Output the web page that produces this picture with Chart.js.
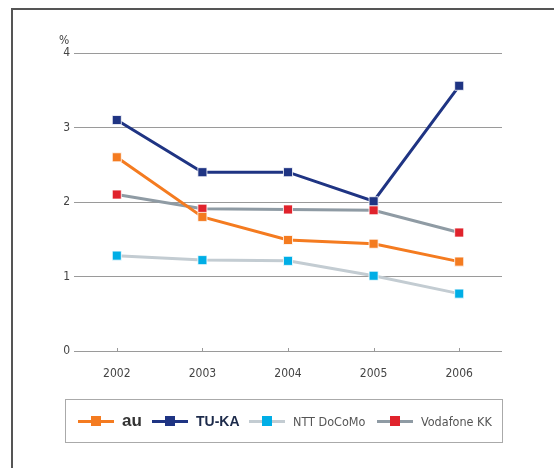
<!DOCTYPE html>
<html>
<head>
<meta charset="utf-8">
<script src="https://cdn.jsdelivr.net/npm/chart.js@4/dist/chart.umd.min.js"></script>
<style>
  html, body { margin: 0; padding: 0; background: #fff; overflow: hidden; }
  body { width: 554px; height: 468px; position: relative; font-family: "DejaVu Sans Condensed", "Liberation Sans", sans-serif; }
  #frame { position: absolute; left: 11px; top: 8px; width: 600px; height: 600px; border-left: 2px solid #555; border-top: 2px solid #555; }
  #wrap { position: absolute; left: 0; top: 0; width: 554px; height: 468px; }
  #pct { position: absolute; left: 59px; top: 33px; font-size: 12px; color: #444; }
  #legend { position: absolute; left: 65px; top: 399px; width: 436px; height: 42px; border: 1px solid #aaa; box-sizing: content-box; }
  .item { position: absolute; top: 0; height: 42px; display: flex; align-items: center; }
  .sym { position: relative; width: 36px; height: 10px; margin-right: 8px; }
  .sym .ln { position: absolute; left: 0; right: 0; top: 4px; height: 3px; }
  .sym .mk { position: absolute; left: 13px; top: 0px; width: 10px; height: 10px; }
  .txt { color: #444; font-size: 13px; white-space: nowrap; }
</style>
</head>
<body>
<div id="frame"></div>
<div id="wrap"><canvas id="c" width="554" height="468"></canvas></div>
<div id="pct">%</div>
<div id="legend"></div>
<script>
const years = ["2002", "2003", "2004", "2005", "2006"];
const yTicks = [0, 1, 2, 3, 4];
const seriesNames = ["au", "TU-KA", "NTT DoCoMo", "Vodafone KK"];
const au = [2.6, 1.8, 1.49, 1.44, 1.2];
const tuka = [3.1, 2.4, 2.4, 2.01, 3.56];
const docomo = [1.28, 1.22, 1.21, 1.01, 0.77];
const vodafone = [2.1, 1.91, 1.9, 1.89, 1.59];

const lineColors = ["#f47b20", "#1f3483", "#c3ccd2", "#8f9ba4"];
const markColors = ["#f47b20", "#1f3483", "#00aee6", "#e0232c"];
const values = [au, tuka, docomo, vodafone];

const datasets = values.map((v, i) => ({
  label: seriesNames[i],
  data: v,
  borderColor: lineColors[i],
  backgroundColor: markColors[i],
  pointBackgroundColor: markColors[i],
  pointBorderColor: "#ffffff",
  pointBorderWidth: 0.8,
  pointStyle: "rect",
  pointRadius: 6.4,
  pointHoverRadius: 6.4,
  borderWidth: 3,
  tension: 0
}));

const upTicks = {
  id: "upTicks",
  afterDatasetsDraw(chart) {
    const x = chart.scales.x, y = chart.scales.y;
    const ctx = chart.ctx;
    ctx.save();
    ctx.strokeStyle = "#999";
    ctx.lineWidth = 1;
    x.ticks.forEach((t, i) => {
      const px = Math.round(x.getPixelForTick(i)) + 0.5;
      ctx.beginPath();
      ctx.moveTo(px, y.bottom);
      ctx.lineTo(px, y.bottom - 3);
      ctx.stroke();
    });
    ctx.restore();
  }
};

const tickFont = { family: "'DejaVu Sans Condensed', sans-serif", size: 12 };

new Chart(document.getElementById("c"), {
  type: "line",
  data: { labels: years, datasets },
  plugins: [upTicks],
  options: {
    responsive: false,
    animation: false,
    layout: { padding: { top: 53, right: 52, bottom: 87, left: 0 } },
    plugins: { legend: { display: false }, tooltip: { enabled: false } },
    scales: {
      x: {
        offset: true,
        grid: { display: false },
        border: { display: false },
        ticks: { color: "#444", padding: 8, font: tickFont },
        afterFit(s) { s.height = 30; }
      },
      y: {
        min: 0, max: 4,
        afterBuildTicks(s) { s.ticks = yTicks.map(v => ({ value: v })); },
        grid: { color: "#9a9a9a", lineWidth: 1, drawTicks: false },
        border: { display: false },
        ticks: { color: "#444", padding: 4, font: tickFont },
        afterFit(s) { s.width = 74; }
      }
    }
  }
});

// HTML legend built from the series arrays
const legendLefts = [12, 86, 183, 311];
const legendFonts = [
  "bold 17px 'Liberation Sans', 'DejaVu Sans', sans-serif",
  "bold 14px 'Liberation Sans', 'DejaVu Sans', sans-serif",
  "12.5px 'DejaVu Sans Condensed', sans-serif",
  "12.5px 'DejaVu Sans Condensed', sans-serif"
];
const legendTextColors = ["#333", "#1c2a4a", "#555", "#555"];
const lg = document.getElementById("legend");
seriesNames.forEach((name, i) => {
  const it = document.createElement("div");
  it.className = "item";
  it.style.left = legendLefts[i] + "px";
  it.innerHTML = '<div class="sym"><div class="ln" style="background:' + lineColors[i] + '"></div><div class="mk" style="background:' + markColors[i] + '"></div></div>' +
    '<span class="txt" style="font:' + legendFonts[i] + ';color:' + legendTextColors[i] + '">' + name + '</span>';
  lg.appendChild(it);
});
</script>
</body>
</html>
